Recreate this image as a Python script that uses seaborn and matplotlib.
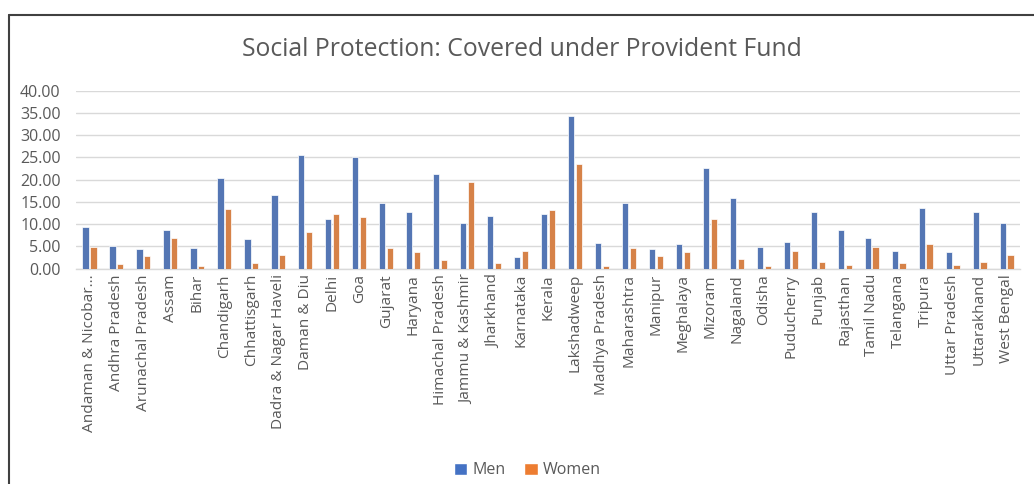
import matplotlib
matplotlib.use("Agg")
import matplotlib.pyplot as plt
import seaborn as sns
import pandas as pd
from matplotlib.lines import Line2D
from matplotlib.patches import Patch

states = ["Andaman & Nicobar…", "Andhra Pradesh", "Arunachal Pradesh", "Assam", "Bihar",
          "Chandigarh", "Chhattisgarh", "Dadra & Nagar Haveli", "Daman & Diu", "Delhi",
          "Goa", "Gujarat", "Haryana", "Himachal Pradesh", "Jammu & Kashmir", "Jharkhand",
          "Karnataka", "Kerala", "Lakshadweep", "Madhya Pradesh", "Maharashtra", "Manipur",
          "Meghalaya", "Mizoram", "Nagaland", "Odisha", "Puducherry", "Punjab", "Rajasthan",
          "Tamil Nadu", "Telangana", "Tripura", "Uttar Pradesh", "Uttarakhand", "West Bengal"]
men = [9.29, 5.09, 4.34, 8.69, 4.57, 20.45, 6.74, 16.48, 25.47, 11.16,
       25.09, 14.76, 12.66, 21.20, 10.19, 11.76, 2.62, 12.28, 34.23, 5.77,
       14.76, 4.34, 5.54, 22.55, 15.80, 4.94, 5.99, 12.81, 8.61, 6.89,
       3.90, 13.56, 3.67, 12.81, 10.34]
women = [4.94, 1.05, 2.85, 6.89, 0.60, 13.33, 1.20, 3.15, 8.31, 12.36,
         11.54, 4.64, 3.82, 1.95, 19.55, 1.20, 3.90, 13.26, 23.52, 0.67,
         4.64, 2.85, 3.82, 11.16, 2.10, 0.67, 3.90, 1.57, 0.82, 4.94,
         1.20, 5.47, 0.75, 1.50, 3.00]
series = ["Men", "Women"]
colors = ["#4472C4", "#ED7D31"]
title = "Social Protection: Covered under Provident Fund"
yticks = [0, 5, 10, 15, 20, 25, 30, 35, 40]

df = pd.DataFrame({"State": states * 2,
                   "Series": ["Men"] * len(states) + ["Women"] * len(states),
                   "Value": men + women})

sns.set_theme(style="white")
plt.rcParams["font.family"] = ["Open Sans", "DejaVu Sans"]

fig = plt.figure(figsize=(10.34, 4.84), dpi=100)
ax = fig.add_axes([0.0735, 0.4452, 0.913, 0.3678])

sns.barplot(data=df, x="State", y="Value", hue="Series", order=states,
            hue_order=series, palette=colors, width=0.58, gap=0.2,
            edgecolor="white", linewidth=0.5, legend=False, ax=ax, zorder=3)

ax.set_ylim(0, 40)
ax.set_yticks(yticks)
ax.set_yticklabels([f"{v:.2f}" for v in yticks], fontsize=11.5, color="#595959")
ax.set_xlim(-0.5, len(states) - 0.5)
ax.set_xticks(range(len(states)))
ax.set_xticklabels(states, rotation=90, fontsize=11.1, color="#595959")
ax.tick_params(axis="y", length=0, pad=11)
ax.tick_params(axis="x", length=0, pad=4)
ax.set_xlabel("")
ax.set_ylabel("")
ax.grid(axis="y", color="#D9D9D9", linewidth=1.0, zorder=0)
for s in ["top", "right", "left"]:
    ax.spines[s].set_visible(False)
ax.spines["bottom"].set_color("#D9D9D9")
ax.spines["bottom"].set_linewidth(1.0)

fig.text(0.505, 0.898, title, ha="center", va="center", fontsize=17.8, color="#595959")

handles = [Patch(facecolor=c, label=l) for c, l in zip(colors, series)]
fig.legend(handles=handles, loc="center", bbox_to_anchor=(0.51, 0.028), ncol=2,
           frameon=False, fontsize=11.5, labelcolor="#595959", handlelength=0.85,
           handleheight=0.85, handletextpad=0.3, columnspacing=1.2)

fig.add_artist(Line2D([8.5 / 1034, 8.5 / 1034], [0, 1 - 15 / 484], transform=fig.transFigure,
                      color="#404040", linewidth=1.5))
fig.add_artist(Line2D([8.5 / 1034, 1], [1 - 15 / 484, 1 - 15 / 484], transform=fig.transFigure,
                      color="#404040", linewidth=1.5))

fig.savefig("out.png", dpi=100, facecolor="white")
